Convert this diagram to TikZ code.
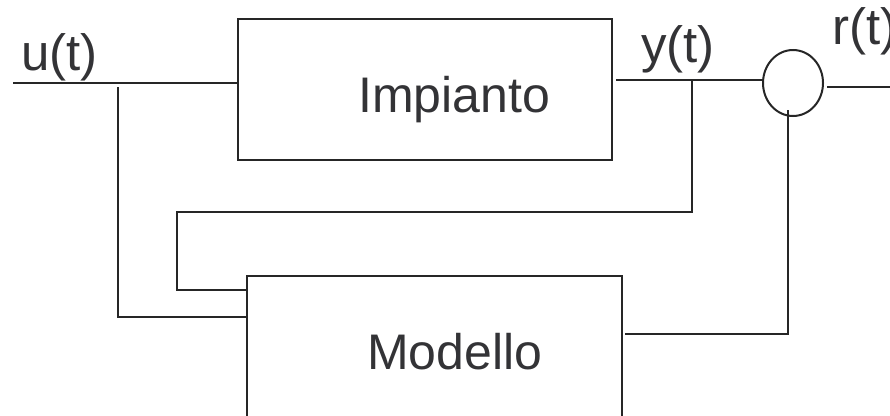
\documentclass[tikz,border=0pt]{standalone}
\usepackage{fontspec}
\setmainfont{Liberation Sans}
\usetikzlibrary{shapes.geometric}
\definecolor{ln}{HTML}{262626}
\definecolor{tx}{HTML}{333336}
\tikzset{
  blockbox/.style={draw=ln, line width=2pt, inner sep=0pt},
  wire/.style={draw=ln, line width=2pt},
  lbl/.style={inner sep=0pt, anchor=base west, text=tx, font=\fontsize{51}{60}\selectfont},
  btxt/.style={inner sep=0pt, anchor=base west, text=tx, font=\fontsize{50}{60}\selectfont}
}
\begin{document}
\begin{tikzpicture}[x=1pt,y=-1pt]
\useasboundingbox (0,0) rectangle (890,415);
\clip (0,0) rectangle (890,415);
% blocks
\node[blockbox, minimum width=374pt, minimum height=141pt] (imp) at (425,89.5) {};
\node[blockbox, minimum width=375pt, minimum height=170pt] (mod) at (434.5,361) {};
\node[draw=ln, line width=2pt, ellipse, minimum width=60pt, minimum height=66pt, inner sep=0pt] (sum) at (793,83) {};
% texts
\node[btxt] (timp) at (358,112) {Impianto};
\node[btxt] (tmod) at (367,369) {Modello};
\node[lbl] (lu) at (21,70) {u(t)};
\node[lbl] (ly) at (641,62) {y(t)};
\node[lbl] (lr) at (832,44) {r(t)};
% coordinates
\coordinate (uin) at (13,83);
\coordinate (ub) at (118,87);
\coordinate (ubl) at (118,317);
\coordinate (yo) at (616,80);
\coordinate (yb) at (692,80);
\coordinate (yb1) at (692,212);
\coordinate (yb2) at (177,212);
\coordinate (yb3) at (177,290);
\coordinate (sb) at (788,110);
\coordinate (sb1) at (788,334);
\coordinate (rout) at (890,87);
% connectors
\draw[wire] (uin) -- (uin -| imp.west);
\draw[wire] (ub) -- (ubl) -- (ubl -| mod.west);
\draw[wire] (yo) -- (yo -| sum.west);
\draw[wire] (yb) -- (yb1) -- (yb2) -- (yb3) -- (yb3 -| mod.west);
\draw[wire] (sb) -- (sb1) -- ([xshift=2pt]sb1 -| mod.east);
\draw[wire] ([xshift=3pt]rout -| sum.east) -- (rout);
\end{tikzpicture}
\end{document}
